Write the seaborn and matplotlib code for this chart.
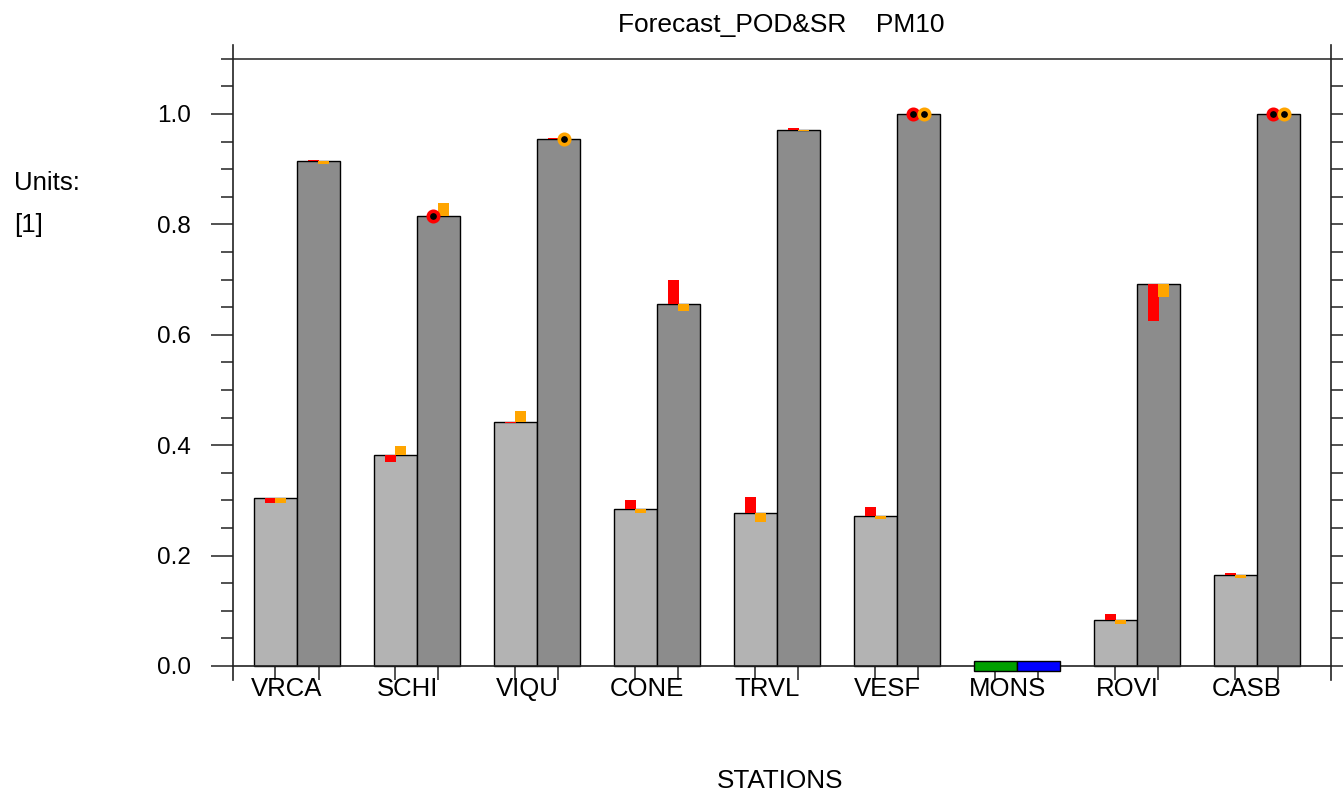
import numpy as np
import pandas as pd
import seaborn as sns
import matplotlib
matplotlib.use("Agg")
import matplotlib.pyplot as plt
from matplotlib.ticker import MultipleLocator

# Station scores for PM10 forecasts
stations = ["VRCA", "SCHI", "VIQU", "CONE", "TRVL", "VESF", "MONS", "ROVI", "CASB"]
pod = [0.304, 0.382, 0.442, 0.284, 0.278, 0.272, np.nan, 0.083, 0.165]
sr = [0.914, 0.816, 0.955, 0.656, 0.971, 1.000, np.nan, 0.692, 1.000]

# Comparison values drawn as coloured strips from the top of each bar
pod_red = [0.296, 0.369, 0.441, 0.301, 0.306, 0.288, np.nan, 0.094, 0.168]
pod_orange = [0.296, 0.399, 0.462, 0.278, 0.260, 0.266, np.nan, 0.076, 0.159]
sr_red = [0.917, 0.816, 0.957, 0.699, 0.974, 1.000, np.nan, 0.625, 1.000]
sr_orange = [0.910, 0.839, 0.955, 0.643, 0.969, 1.000, np.nan, 0.669, 1.000]

yticks = [0.0, 0.2, 0.4, 0.6, 0.8, 1.0]

sns.set_style("white")
plt.rcParams["font.family"] = ["Liberation Sans", "DejaVu Sans"]
plt.rcParams["text.color"] = "black"
plt.rcParams["xtick.color"] = "black"
plt.rcParams["ytick.color"] = "black"

df = pd.DataFrame({
    "station": stations * 2,
    "metric": ["POD"] * len(stations) + ["SR"] * len(stations),
    "value": pod + sr,
})

fig = plt.figure(figsize=(13.43, 7.94), dpi=100)
ax = fig.add_axes([233 / 1343, 1 - 680 / 794, (1331 - 233) / 1343, (680 - 45) / 794])

group_w = 0.717
sns.barplot(data=df, x="station", y="value", hue="metric", order=stations,
            hue_order=["POD", "SR"],
            palette={"POD": "#b3b3b3", "SR": "#8c8c8c"},
            width=group_w, saturation=1, edgecolor="black", linewidth=1.0,
            errorbar=None, legend=False, ax=ax)

bw = group_w / 2
xs = np.arange(len(stations))
pod_x = xs - bw / 2
sr_x = xs + bw / 2

strip_w = 0.085
strip_off = 0.042


def draw_strips(xc, base, vals, color, off):
    base = np.asarray(base, float)
    vals = np.asarray(vals, float)
    ok = ~np.isnan(base) & ~np.isnan(vals)
    diff = vals - base
    ax.bar(xc[ok] + off, diff[ok], bottom=base[ok], width=strip_w,
           color=color, linewidth=0, zorder=4)
    same = ok & (np.abs(diff) < 1e-9)
    ax.plot(xc[same] + off, vals[same], linestyle="none", marker="o",
            markersize=7.5, markerfacecolor="black", markeredgecolor=color,
            markeredgewidth=2.6, zorder=5, clip_on=False)


draw_strips(pod_x, pod, pod_red, "#ff0000", -strip_off)
draw_strips(pod_x, pod, pod_orange, "#ffa500", strip_off)
draw_strips(sr_x, sr, sr_red, "#ff0000", -strip_off)
draw_strips(sr_x, sr, sr_orange, "#ffa500", strip_off)

# Stations without data: flat coloured band on the zero line
missing = np.isnan(np.asarray(pod, float))
ax.bar(pod_x[missing], 0.018, bottom=-0.009, width=bw, color="#00a000",
       edgecolor="black", linewidth=1.0, zorder=4, clip_on=False)
ax.bar(sr_x[missing], 0.018, bottom=-0.009, width=bw, color="#0000ff",
       edgecolor="black", linewidth=1.0, zorder=4, clip_on=False)

ax.set_xlim(-0.5333, 8.617)
ax.set_ylim(-0.0254, 1.125)

# Axis frame
for s in ("left", "right"):
    ax.spines[s].set_visible(True)
    ax.spines[s].set_color("#222222")
    ax.spines[s].set_linewidth(1.2)
ax.spines["top"].set_visible(False)
ax.spines["bottom"].set_position(("data", 0))
ax.spines["bottom"].set_color("#222222")
ax.spines["bottom"].set_linewidth(1.2)
ax.axhline(1.1, color="#333333", linewidth=1.2, zorder=1)

ax.yaxis.set_major_locator(MultipleLocator(0.2))
ax.yaxis.set_minor_locator(MultipleLocator(0.05))
ax.set_yticks(yticks)
ax.set_yticklabels([f"{v:.1f}" for v in yticks])
ax.tick_params(axis="y", which="major", direction="out", length=15.8, width=1.1,
               color="#222222", left=True, right=True, labelsize=17.5, pad=14.5,
               labelcolor="black")
ax.tick_params(axis="y", which="minor", direction="out", length=8.6, width=1.1,
               color="#222222", left=True, right=True)

ax.set_xticks(np.concatenate([pod_x, sr_x]))
ax.set_xticklabels([])
ax.tick_params(axis="x", which="major", direction="out", length=10, width=1.1,
               color="#222222", bottom=True)
ax.set_xlabel("")
ax.set_ylabel("")

for i, name in enumerate(stations):
    ax.text(xs[i] - 0.083, -0.0417, name, ha="center", va="center",
            fontsize=18.5, color="black", clip_on=False)

fig.text(781 / 1343, 1 - 25 / 794, "Forecast_POD&SR    PM10", ha="center",
         va="center", fontsize=19, color="black")
fig.text(780 / 1343, 1 - 781 / 794, "STATIONS", ha="center", va="center",
         fontsize=18.8, color="black")
fig.text(14 / 1343, 1 - 183 / 794, "Units:", ha="left", va="center",
         fontsize=18.6, color="black")
fig.text(14 / 1343, 1 - 225 / 794, "[1]", ha="left", va="center",
         fontsize=18.6, color="black")

fig.savefig("out.png", dpi=100)
